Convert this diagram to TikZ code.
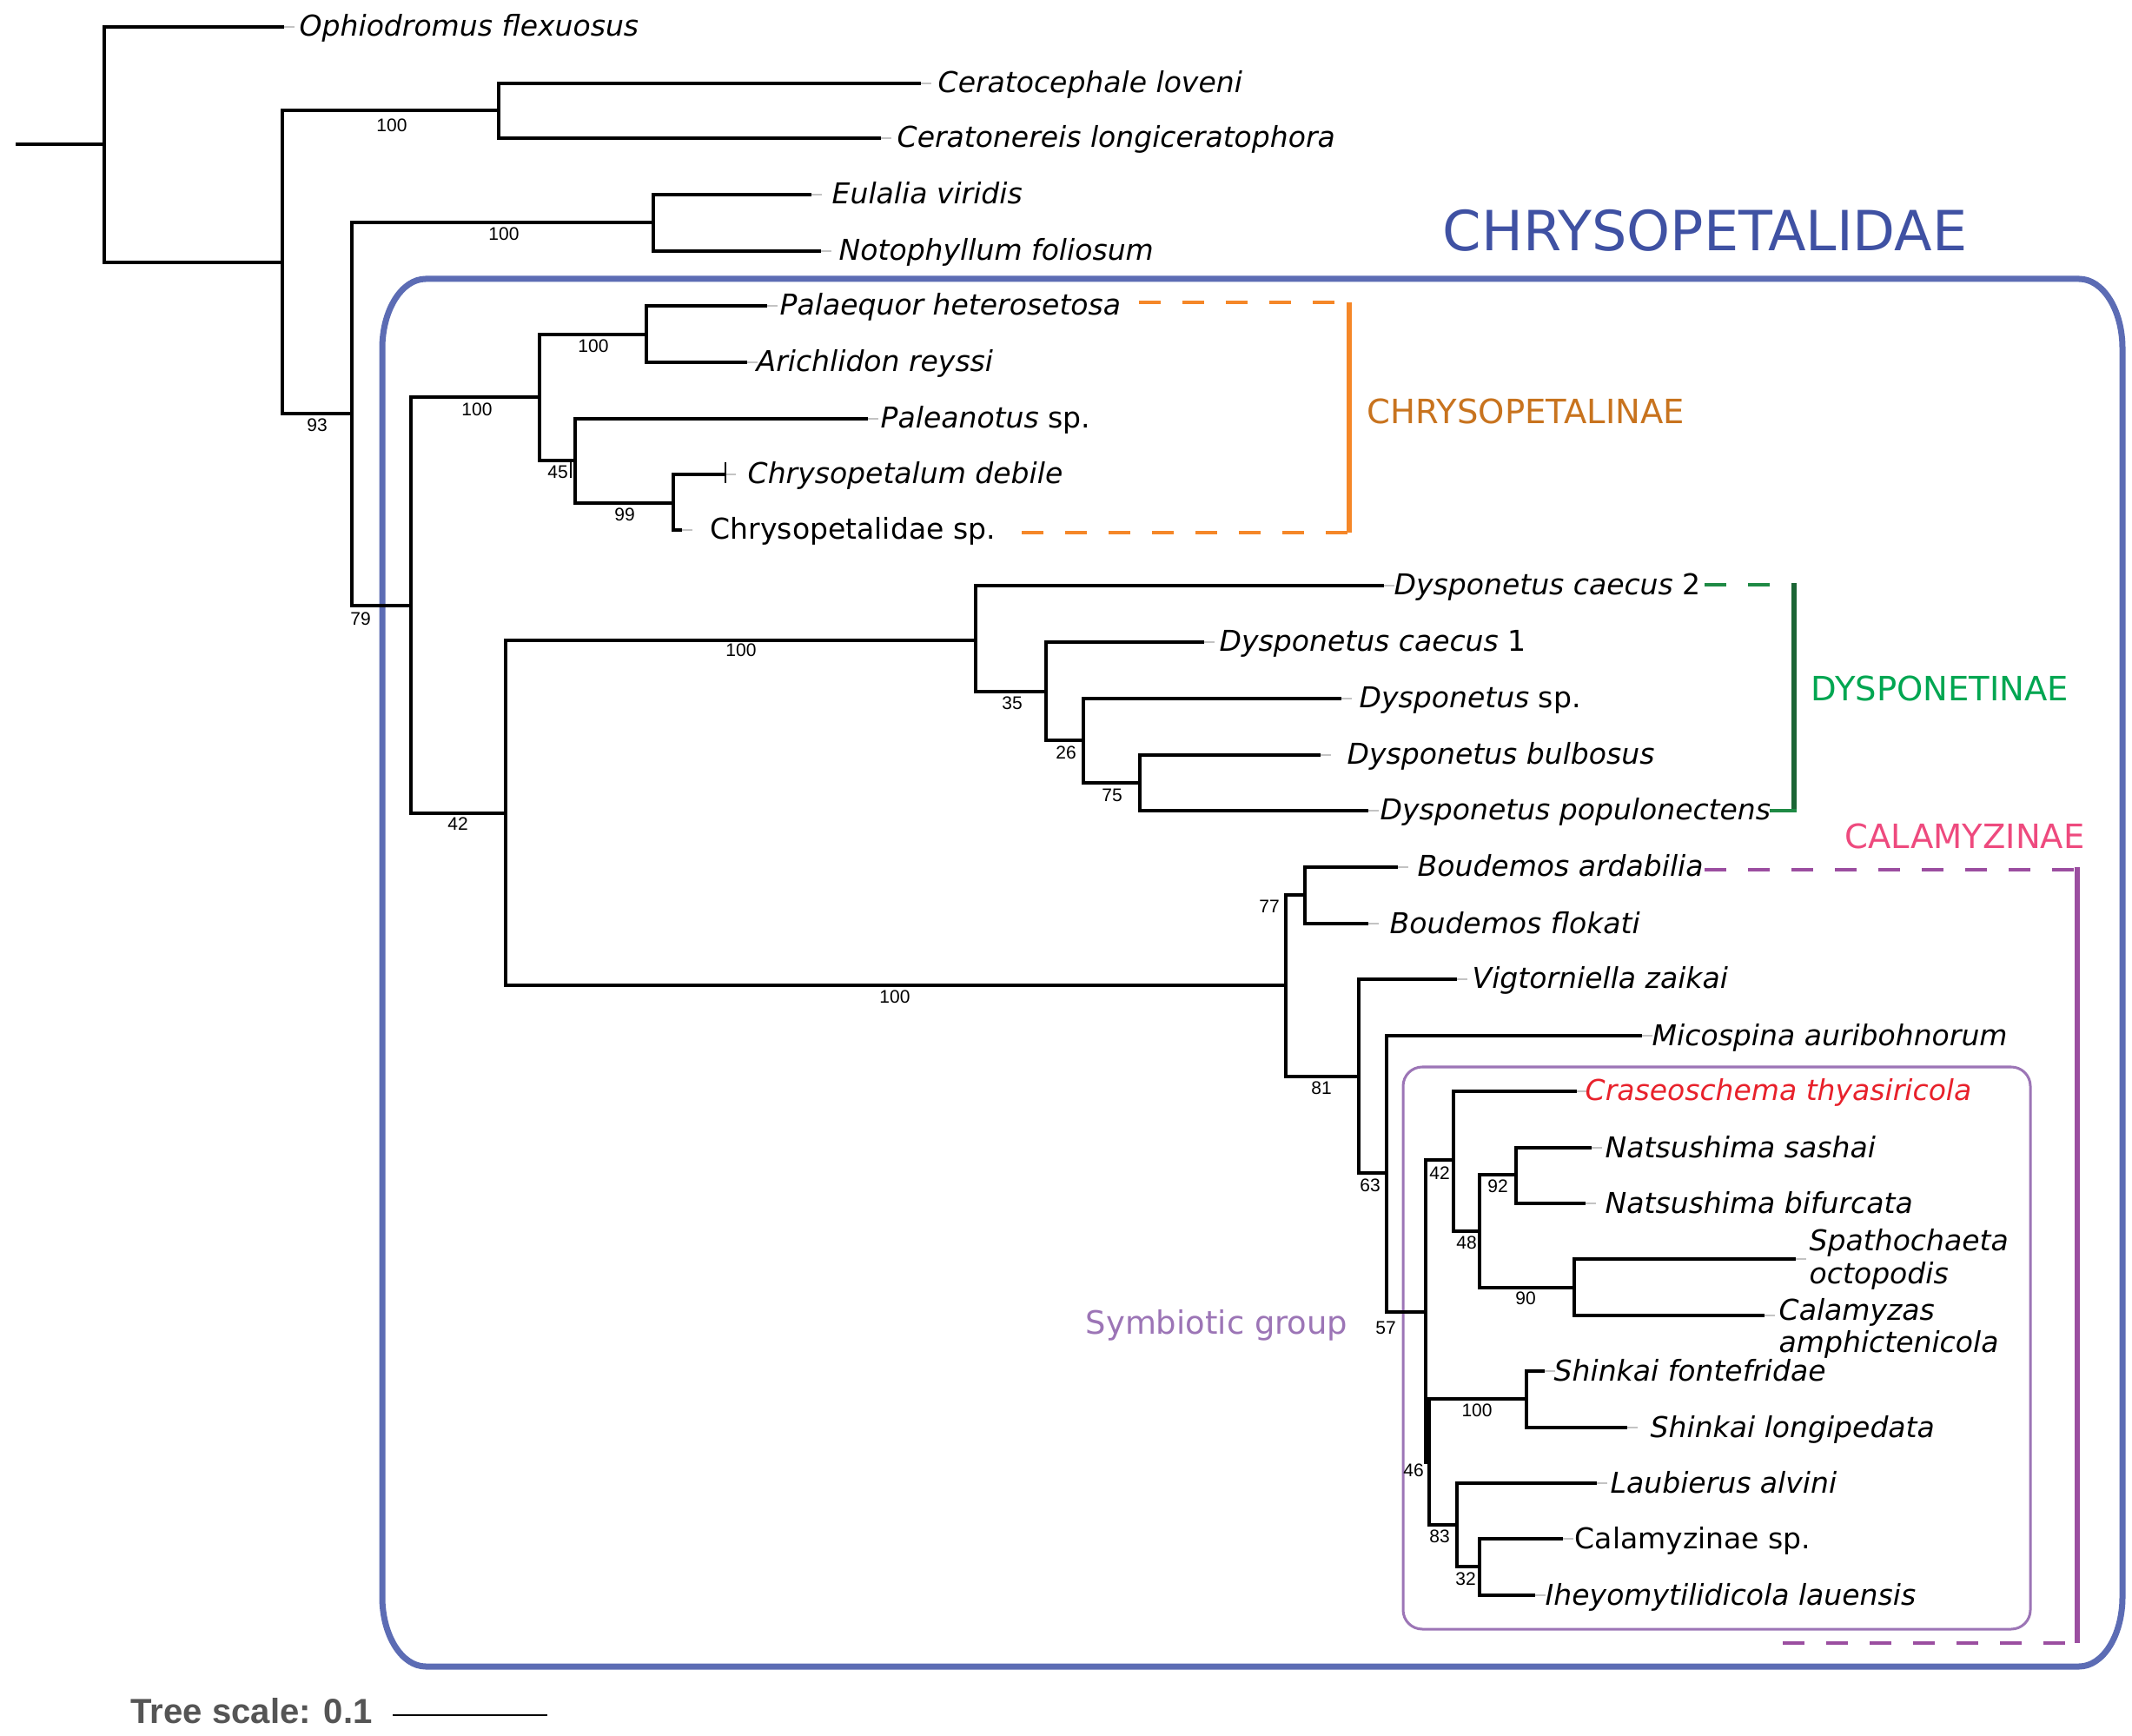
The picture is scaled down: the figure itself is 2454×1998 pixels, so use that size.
\documentclass[tikz,border=0pt]{standalone}
\usepackage{fontspec}
\newfontfamily\dejavu{DejaVu Sans}
\newfontfamily\libsans{Liberation Sans}
\definecolor{boxblue}{RGB}{92,108,180}
\definecolor{titleblue}{RGB}{63,81,163}
\definecolor{orangeln}{RGB}{245,135,40}
\definecolor{orangetx}{RGB}{200,115,30}
\definecolor{greendash}{RGB}{31,138,69}
\definecolor{greenln}{RGB}{27,101,53}
\definecolor{greentx}{RGB}{0,166,81}
\definecolor{pinktx}{RGB}{238,74,126}
\definecolor{purpln}{RGB}{155,78,160}
\definecolor{symb}{RGB}{156,117,182}
\definecolor{redtx}{RGB}{232,33,43}
\definecolor{scalegray}{RGB}{85,85,85}
\definecolor{tickgray}{RGB}{195,195,195}
\begin{document}
\begin{tikzpicture}[x=0.01cm,y=-0.01cm,
  br/.style={line width=0.04cm, black},
  gtick/.style={line width=0.015cm, tickgray},
  leaf/.style={anchor=base west, inner sep=0pt,
    font=\dejavu\fontsize{9.39pt}{10.8pt}\selectfont\itshape},
  bs/.style={inner sep=0pt, font=\libsans\fontsize{5.97pt}{6pt}\selectfont},
  clade/.style={anchor=base west, inner sep=0pt, font=\dejavu\fontsize{10.95pt}{12pt}\selectfont},
  dashln/.style={line width=0.045cm, dash pattern=on 0.25cm off 0.25cm}]
\useasboundingbox (0,0) rectangle (2454,1998);
\fill[white] (0,0) rectangle (2454,1998);

% ---------- CHRYSOPETALIDAE box ----------
\draw[boxblue, line width=0.07cm]
  (440,401) .. controls (440,356.8) and (462.4,321) .. (490,321)
  -- (2393,321) .. controls (2420.6,321) and (2443,356.8) .. (2443,401)
  -- (2443,1838) .. controls (2443,1882.2) and (2420.6,1918) .. (2393,1918)
  -- (490,1918) .. controls (462.4,1918) and (440,1882.2) .. (440,1838) -- cycle;
\node[anchor=base west, inner sep=0pt, text=titleblue,
  font=\dejavu\fontsize{18.1pt}{20pt}\selectfont] (ttl) at (1660,289) {CHRYSOPETALIDAE};

% ---------- Symbiotic group box ----------
\draw[symb, line width=0.03cm, rounded corners=0.22cm] (1615,1228) rectangle (2337,1875);
\node[anchor=base west, inner sep=0pt, text=symb, font=\dejavu\fontsize{10.5pt}{12pt}\selectfont] (symlab) at (1249,1535) {Symbiotic group};

% ---------- internal nodes ----------
\coordinate (root) at (18,166);
\coordinate (n0) at (120,166);
\coordinate (A) at (325,302);
\coordinate (B) at (574,127);
\coordinate (C) at (405,476);
\coordinate (E) at (752,256);
\coordinate (D) at (473,697);
\coordinate (F) at (621,457);
\coordinate (G) at (744,385);
\coordinate (H) at (662,530);
\coordinate (I) at (775,579);
\coordinate (J) at (582,936);
\coordinate (K) at (1123,737);
\coordinate (M) at (1204,796);
\coordinate (N) at (1247,852);
\coordinate (O) at (1312,901);
\coordinate (L) at (1480,1134);
\coordinate (P) at (1502,1030);
\coordinate (Q) at (1564,1239);
\coordinate (R) at (1596,1350);
\coordinate (S) at (1641,1510);
\coordinate (T) at (1673,1335);
\coordinate (U) at (1703,1417);
\coordinate (V) at (1745,1352);
\coordinate (W) at (1812,1482);
\coordinate (S2) at (1645,1683);
\coordinate (X) at (1757,1610);
\coordinate (Y) at (1677,1755);
\coordinate (Z) at (1703,1803);

% ---------- leaf ends ----------
\coordinate (oph) at (327,31);
\coordinate (clov) at (1060,96);
\coordinate (clon) at (1014,159);
\coordinate (eul) at (934,224);
\coordinate (not) at (945,289);
\coordinate (pal) at (883,352);
\coordinate (ari) at (860,417);
\coordinate (pan) at (999,482);
\coordinate (deb) at (835,546);
\coordinate (csp) at (785,610);
\coordinate (dc2) at (1593,674);
\coordinate (dc1) at (1386,739);
\coordinate (dsp) at (1544,804);
\coordinate (dbu) at (1520,869);
\coordinate (dpo) at (1575,933);
\coordinate (bar) at (1609,998);
\coordinate (bfl) at (1575,1063);
\coordinate (vig) at (1677,1127);
\coordinate (mic) at (1890,1192);
\coordinate (cra) at (1815,1256);
\coordinate (nsa) at (1832,1321);
\coordinate (nbi) at (1825,1385);
\coordinate (spa) at (2067,1449);
\coordinate (cal) at (2031,1514);
\coordinate (sfo) at (1778,1578);
\coordinate (slo) at (1873,1643);
\coordinate (lau) at (1838,1707);
\coordinate (casp) at (1799,1771);
\coordinate (ihe) at (1767,1836);

% ---------- gray leaf ticks ----------
\foreach \lf in {oph,clov,clon,eul,not,pal,ari,pan,deb,csp,dc2,dc1,dsp,dbu,dpo,bar,bfl,vig,mic,cra,nsa,nbi,spa,cal,sfo,slo,lau,casp,ihe}
  \draw[gtick] (\lf) -- ++(12,0);

% ---------- branches ----------
\draw[br] (root) -- (n0);
\draw[br] (n0) |- (oph);  \draw[br] (n0) |- (A);
\draw[br] (A) |- (B);     \draw[br] (A) |- (C);
\draw[br] (B) |- (clov);  \draw[br] (B) |- (clon);
\draw[br] (C) |- (E);     \draw[br] (C) |- (D);
\draw[br] (E) |- (eul);   \draw[br] (E) |- (not);
\draw[br] (D) |- (F);     \draw[br] (D) |- (J);
\draw[br] (F) |- (G);     \draw[br] (F) |- (H);
\draw[br] (G) |- (pal);   \draw[br] (G) |- (ari);
\draw[br] (H) |- (pan);   \draw[br] (H) |- (I);
\draw[br] (I) |- (deb);   \draw[br] (I) |- (csp);
\draw[br] (J) |- (K);     \draw[br] (J) |- (L);
\draw[br] (K) |- (dc2);   \draw[br] (K) |- (M);
\draw[br] (M) |- (dc1);   \draw[br] (M) |- (N);
\draw[br] (N) |- (dsp);   \draw[br] (N) |- (O);
\draw[br] (O) |- (dbu);   \draw[br] (O) |- (dpo);
\draw[br] (L) |- (P);     \draw[br] (L) |- (Q);
\draw[br] (P) |- (bar);   \draw[br] (P) |- (bfl);
\draw[br] (Q) |- (vig);   \draw[br] (Q) |- (R);
\draw[br] (R) |- (mic);   \draw[br] (R) |- (S);
\draw[br] (S) |- (T);     \draw[br] (S) |- (S2);
\draw[br] (T) |- (cra);   \draw[br] (T) |- (U);
\draw[br] (U) |- (V);     \draw[br] (U) |- (W);
\draw[br] (V) |- (nsa);   \draw[br] (V) |- (nbi);
\draw[br] (W) |- (spa);   \draw[br] (W) |- (cal);
\draw[br] (S2) |- (X);    \draw[br] (S2) |- (Y);
\draw[br] (X) |- (sfo);   \draw[br] (X) |- (slo);
\draw[br] (Y) |- (lau);   \draw[br] (Y) |- (Z);
\draw[br] (Z) |- (casp);  \draw[br] (Z) |- (ihe);
% small ticks
\draw[line width=0.015cm] (657,532) -- (657,550);
\draw[line width=0.015cm] (deb) ++(0,-14) -- ++(0,24);

% ---------- leaf labels ----------
\node[leaf] (toph) at (344,42) {Ophiodromus flexuosus};
\node[leaf] (tclov) at (1079,107) {Ceratocephale loveni};
\node[leaf] (tclon) at (1032,170) {Ceratonereis longiceratophora};
\node[leaf] (teul) at (957,235) {Eulalia viridis};
\node[leaf] (tnot) at (965,300) {Notophyllum foliosum};
\node[leaf] (tpal) at (897,363) {Palaequor heterosetosa};
\node[leaf] (tari) at (870,428) {Arichlidon reyssi};
\node[leaf] (tpan) at (1013,493) {Paleanotus \upshape sp.};
\node[leaf] (tdeb) at (860,557) {Chrysopetalum debile};
\node[leaf] (tcsp) at (817,621) {\upshape Chrysopetalidae sp.};
\node[leaf] (tdc2) at (1604,685) {Dysponetus caecus \upshape 2};
\node[leaf] (tdc1) at (1403,750) {Dysponetus caecus \upshape 1};
\node[leaf] (tdsp) at (1564,815) {Dysponetus \upshape sp.};
\node[leaf] (tdbu) at (1550,880) {Dysponetus bulbosus};
\node[leaf] (tdpo) at (1588,944) {Dysponetus populonectens};
\node[leaf] (tbar) at (1631,1009) {Boudemos ardabilia};
\node[leaf] (tbfl) at (1599,1074) {Boudemos flokati};
\node[leaf] (tvig) at (1694,1138) {Vigtorniella zaikai};
\node[leaf] (tmic) at (1901,1203) {Micospina auribohnorum};
\node[leaf, text=redtx] (tcra) at (1824,1267) {Craseoschema thyasiricola};
\node[leaf] (tnsa) at (1847,1332) {Natsushima sashai};
\node[leaf] (tnbi) at (1847,1396) {Natsushima bifurcata};
\node[leaf] (tspa) at (2082,1439) {Spathochaeta};
\node[leaf] (tspb) at (2082,1477) {octopodis};
\node[leaf] (tcal) at (2047,1519) {Calamyzas};
\node[leaf] (tcalb) at (2047,1556) {amphictenicola};
\node[leaf] (tsfo) at (1788,1589) {Shinkai fontefridae};
\node[leaf] (tslo) at (1899,1654) {Shinkai longipedata};
\node[leaf] (tlau) at (1853,1718) {Laubierus alvini};
\node[leaf] (tcasp) at (1812,1782) {\upshape Calamyzinae sp.};
\node[leaf] (tihe) at (1778,1847) {Iheyomytilidicola lauensis};

% ---------- support values ----------
\node[bs] (sB) at (451,144) {100};
\node[bs] (sE) at (580,269) {100};
\node[bs] (sA) at (365,489) {93};
\node[bs] (sC) at (415,712) {79};
\node[bs] (sG) at (683,398) {100};
\node[bs] (sF) at (549,471) {100};
\node[bs] (sH) at (642,543) {45};
\node[bs] (sI) at (719,592) {99};
\node[bs] (sD) at (527,948) {42};
\node[bs] (sK) at (853,748) {100};
\node[bs] (sM) at (1165,809) {35};
\node[bs] (sN) at (1227,866) {26};
\node[bs] (sO) at (1280,915) {75};
\node[bs] (sL) at (1030,1147) {100};
\node[bs] (sP) at (1461,1043) {77};
\node[bs] (sQ) at (1521,1252) {81};
\node[bs] (sR) at (1577,1364) {63};
\node[bs] (sS) at (1595,1528) {57};
\node[bs] (sT) at (1657,1350) {42};
\node[bs] (sU) at (1688,1430) {48};
\node[bs] (sV) at (1724,1365) {92};
\node[bs] (sW) at (1756,1494) {90};
\node[bs] (sX) at (1700,1623) {100};
\node[bs] (sS2) at (1627,1692) {46};
\node[bs] (sY) at (1657,1768) {83};
\node[bs] (sZ) at (1687,1817) {32};

% ---------- CHRYSOPETALINAE bracket ----------
\coordinate (oA) at (1311,348);
\coordinate (oB) at (1553,348);
\coordinate (oC) at (1553,613);
\coordinate (oD) at (1176,613);
\draw[orangeln, dashln] (oA) -- (oB);
\draw[orangeln, dashln] (oD) -- (oC);
\draw[orangeln, line width=0.055cm] (oB) -- (oC);
\node[clade, text=orangetx] (chl) at (1573,488) {CHRYSOPETALINAE};

% ---------- DYSPONETINAE bracket ----------
\coordinate (gA) at (1962,673);
\coordinate (gB) at (2037,673);
\coordinate (gT) at (2065,671);
\coordinate (gC) at (2065,935);
\coordinate (gD) at (2037,933);
\draw[greendash, dashln] (gA) -- (gB);
\draw[greenln, line width=0.06cm] (gT) -- (gC);
\draw[greendash, line width=0.045cm] (gD) -- (2068,933);
\node[clade, text=greentx] (dyl) at (2084,807) {DYSPONETINAE};

% ---------- CALAMYZINAE bracket ----------
\coordinate (pA) at (1962,1001);
\coordinate (pB) at (2391,1001);
\coordinate (pC) at (2391,1891);
\coordinate (pD) at (2052,1891);
\draw[purpln, dashln] (pA) -- (2388,1001);
\draw[purpln, dashln] (pD) -- (2388,1891);
\draw[purpln, line width=0.065cm] (2391,998) -- (pC);
\node[clade, text=pinktx] (calz) at (2123,977) {CALAMYZINAE};

% ---------- tree scale ----------
\node[anchor=base west, inner sep=0pt, text=scalegray,
  font=\libsans\bfseries\fontsize{11.4pt}{13pt}\selectfont] (tsc) at (150,1983) {Tree scale: 0.1};
\coordinate (scA) at (452,1974);
\coordinate (scB) at (630,1974);
\draw[line width=0.022cm] (scA) -- (scB);
\end{tikzpicture}
\end{document}
